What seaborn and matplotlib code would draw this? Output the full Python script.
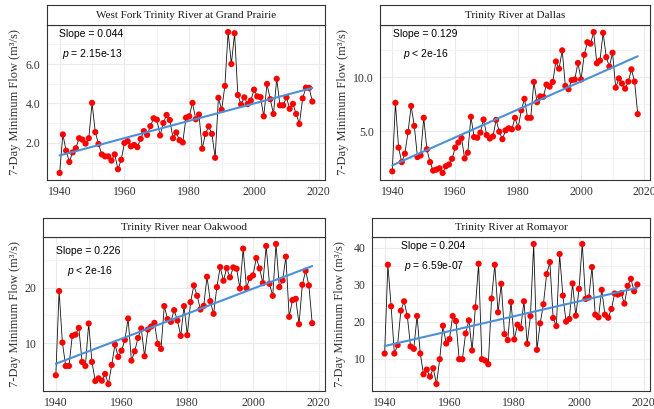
import numpy as np
import pandas as pd
import matplotlib
matplotlib.use("Agg")
import matplotlib.pyplot as plt
import seaborn as sns
from matplotlib.ticker import FixedLocator

years = list(range(1940, 2019))

grand_prairie = [0.48, 2.43, 1.61, 1.04, 1.52, 1.73, 2.24, 2.17, 1.97, 2.24,
                 4.03, 2.55, 1.95, 1.42, 1.32, 1.32, 1.11, 1.42, 0.67, 1.15,
                 2.00, 2.09, 1.83, 1.90, 1.79, 2.21, 2.60, 2.41, 2.85, 3.25,
                 3.18, 2.38, 3.01, 3.42, 3.16, 2.24, 2.53, 2.14, 2.03, 3.28,
                 3.35, 4.03, 3.20, 3.44, 1.71, 2.46, 2.84, 2.46, 1.25, 4.29,
                 3.68, 4.89, 7.62, 6.00, 7.56, 4.43, 3.95, 4.31, 3.97, 4.15,
                 4.70, 4.36, 4.32, 3.35, 4.99, 4.22, 3.47, 5.25, 3.91, 3.91,
                 4.31, 3.73, 3.98, 3.47, 2.96, 4.26, 4.80, 4.79, 4.10]

dallas = [1.31, 7.63, 3.50, 2.16, 2.94, 4.94, 7.34, 5.50, 2.63, 2.78,
          6.25, 3.34, 2.16, 1.38, 1.47, 1.59, 1.16, 1.78, 1.94, 2.47,
          3.50, 3.97, 4.38, 2.50, 3.03, 6.34, 4.47, 4.41, 4.88, 6.09,
          4.66, 4.34, 4.53, 6.06, 4.97, 4.28, 5.09, 5.28, 5.19, 6.25,
          5.34, 6.94, 8.00, 6.25, 6.25, 9.56, 7.69, 8.22, 8.19, 9.31,
          9.13, 9.56, 11.44, 10.78, 12.47, 9.19, 8.88, 9.72, 9.78, 11.31,
          9.78, 12.06, 13.22, 13.09, 14.16, 11.28, 11.53, 14.09, 11.84, 10.97,
          12.25, 9.03, 9.88, 9.41, 8.94, 9.59, 10.72, 9.59, 6.59]

oakwood = [4.22, 19.40, 10.12, 5.90, 5.90, 11.33, 11.57, 12.77, 6.63, 5.90,
           13.55, 6.63, 3.19, 3.67, 3.25, 4.46, 2.65, 6.08, 9.76, 7.53,
           8.67, 10.60, 14.46, 6.87, 8.55, 10.96, 12.65, 7.65, 12.47, 13.01,
           13.67, 9.88, 8.98, 16.69, 14.34, 13.86, 15.96, 14.10, 11.33, 16.69,
           11.45, 17.41, 20.42, 18.55, 16.08, 16.75, 21.99, 17.59, 15.30, 20.12,
           23.73, 21.27, 23.55, 21.87, 23.67, 23.43, 19.88, 27.05, 19.94, 21.75,
           22.23, 25.36, 23.49, 20.84, 27.53, 20.72, 18.55, 27.89, 20.12, 21.33,
           25.60, 14.76, 17.77, 18.01, 13.43, 20.54, 23.07, 20.42, 13.61]

romayor = [11.36, 35.38, 24.14, 11.36, 13.63, 22.96, 25.50, 21.51, 13.26, 12.63,
           21.51, 11.36, 5.74, 7.01, 5.10, 7.37, 3.11, 9.82, 18.88, 14.08,
           15.26, 21.51, 20.15, 9.82, 9.82, 16.80, 20.34, 12.18, 23.87, 35.66,
           9.82, 9.46, 8.46, 26.23, 35.38, 22.51, 30.22, 16.62, 14.99, 25.32,
           15.17, 19.16, 18.16, 25.50, 13.99, 21.51, 41.00, 12.36, 19.52, 24.69,
           32.85, 36.11, 20.97, 18.79, 38.29, 27.04, 20.00, 20.70, 30.31, 21.60,
           28.86, 41.00, 26.14, 26.50, 34.75, 21.88, 21.15, 28.59, 21.88, 21.06,
           23.42, 27.59, 27.32, 27.68, 24.87, 29.67, 31.58, 28.22, 30.04]

titles = ["West Fork Trinity River at Grand Prairie", "Trinity River at Dallas",
          "Trinity River near Oakwood", "Trinity River at Romayor"]
slope_labels = ["Slope = 0.044", "Slope = 0.129", "Slope = 0.226", "Slope = 0.204"]
p_labels = [r"$p$ = 2.15e-13", r"$p$ < 2e-16", r"$p$ < 2e-16", r"$p$ = 6.59e-07"]
series = [grand_prairie, dallas, oakwood, romayor]

y_major = [[2, 4, 6], [5, 10], [10, 20], [10, 20, 30, 40]]
y_minor = [[1, 3, 5, 7], [2.5, 7.5, 12.5], [5, 15, 25], [5, 15, 25, 35]]
y_fmt = ["{:.1f}", "{:.1f}", "{:.0f}", "{:.0f}"]
x_major = [1940, 1960, 1980, 2000, 2020]
x_minor = [1950, 1970, 1990, 2010]

sns.set_theme(style="white")
plt.rcParams['font.family'] = ['Liberation Serif', 'DejaVu Serif']
plt.rcParams['mathtext.fontset'] = 'custom'
plt.rcParams['mathtext.rm'] = 'Liberation Sans'
plt.rcParams['mathtext.it'] = 'Liberation Sans:italic'

W, H = 654, 409
fig = plt.figure(figsize=(W / 100, H / 100), dpi=100)
fig.patch.set_facecolor("white")

# pixel boxes: left, right, strip_top, panel_top, panel_bottom
boxes = [(47, 325, 5, 25, 180), (380, 650, 5, 25, 180),
         (43, 325, 218, 237, 391), (372, 650, 218, 237, 391)]
ylab_x = [15, 343, 15, 340]
ann = [((0.158, 0.942), (0.164, 0.813)), ((0.167, 0.942), (0.170, 0.813)),
       ((0.160, 0.909), (0.167, 0.779)), ((0.219, 0.942), (0.225, 0.812))]

border = "#333333"
for i in range(4):
    l, r, st, pt, pb = boxes[i]
    ax = fig.add_axes([l / W, 1 - pb / H, (r - l) / W, (pb - pt) / H])
    df = pd.DataFrame({"year": years, "flow": series[i]})
    sns.lineplot(data=df, x="year", y="flow", ax=ax, color="#111111", lw=0.6, zorder=3)
    sns.scatterplot(data=df, x="year", y="flow", ax=ax, color="#FF0000", s=20,
                    edgecolor="none", zorder=4)
    sns.regplot(data=df, x="year", y="flow", ax=ax, scatter=False, ci=None,
                color="#4A90D9", line_kws={"lw": 1.5, "zorder": 5})
    vals = np.array(series[i])
    span = vals.max() - vals.min()
    ax.set_ylim(vals.min() - 0.05 * span, vals.max() + 0.05 * span)
    ax.set_xlim(1940 - 0.05 * 78, 2018 + 0.05 * 78)
    ax.xaxis.set_major_locator(FixedLocator(x_major))
    ax.xaxis.set_minor_locator(FixedLocator(x_minor))
    ax.yaxis.set_major_locator(FixedLocator(y_major[i]))
    ax.yaxis.set_minor_locator(FixedLocator(y_minor[i]))
    ax.set_yticklabels([y_fmt[i].format(v) for v in y_major[i]])
    ax.set_xticklabels([str(v) for v in x_major])
    ax.grid(True, which="major", color="#EBEBEB", lw=0.8, zorder=0)
    ax.grid(True, which="minor", color="#F3F3F3", lw=0.6, zorder=0)
    ax.set_axisbelow(True)
    ax.tick_params(axis="both", which="major", length=3, width=0.6, color=border,
                   labelsize=8.5, labelcolor="#333333", pad=1.5)
    ax.tick_params(axis="both", which="minor", length=0)
    for sp in ax.spines.values():
        sp.set_color(border)
        sp.set_linewidth(0.8)
    ax.set_xlabel("")
    ax.set_ylabel("")
    (sx, sy), (px, py) = ann[i]
    ax.text(sx, sy, slope_labels[i], transform=ax.transAxes, ha="center", va="center",
            fontsize=7.5, family=["Liberation Sans", "DejaVu Sans"], color="black", zorder=6)
    ax.text(px, py, p_labels[i], transform=ax.transAxes, ha="center", va="center",
            fontsize=7.5, family=["Liberation Sans", "DejaVu Sans"], color="black", zorder=6)

    sax = fig.add_axes([l / W, 1 - pt / H, (r - l) / W, (pt - st) / H])
    sax.set_xticks([])
    sax.set_yticks([])
    sax.set_facecolor("white")
    for sp in sax.spines.values():
        sp.set_color(border)
        sp.set_linewidth(0.8)
    sax.text(0.5, 0.5, titles[i], ha="center", va="center", fontsize=8,
             color="#1A1A1A", transform=sax.transAxes)

    fig.text(ylab_x[i] / W, 1 - ((pt + pb) / 2) / H, "7-Day Minimum Flow (m³/s)",
             rotation=90, ha="center", va="center", fontsize=9, color="#333333")

fig.savefig("out.png", dpi=100, facecolor="white")
